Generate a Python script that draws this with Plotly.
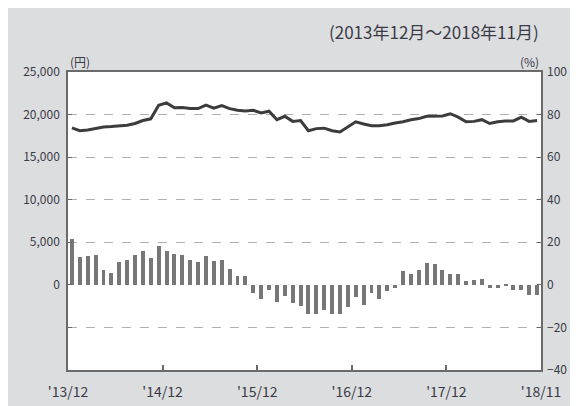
import plotly.graph_objects as go

# Monthly index: Dec 2013 .. Nov 2018 (60 months)
month_labels = ["'13/12", "'14/12", "'15/12", "'16/12", "'17/12", "'18/11"]

price_yen = [18440, 18100, 18200, 18400, 18550, 18600, 18650, 18750, 18950, 19300,
             19500, 21100, 21370, 20800, 20820, 20700, 20700, 21100, 20750, 21050,
             20700, 20500, 20430, 20500, 20200, 20400, 19400, 19800, 19200, 19300,
             18100, 18350, 18400, 18100, 17950, 18500, 19150, 18900, 18700, 18700,
             18800, 19000, 19150, 19400, 19530, 19800, 19840, 19840, 20100, 19700,
             19150, 19200, 19400, 18950, 19150, 19250, 19250, 19700, 19200, 19300]

yoy_pct = [21.4, 12.9, 13.5, 13.8, 7.0, 5.6, 10.8, 11.6, 14.0, 16.0,
           12.5, 18.1, 16.0, 14.6, 14.0, 11.6, 10.8, 13.6, 11.0, 11.6,
           7.3, 4.0, 4.3, -4.0, -6.7, -2.2, -7.9, -5.1, -8.7, -9.8,
           -13.5, -13.5, -11.7, -13.8, -13.5, -10.6, -5.7, -9.4, -3.7, -6.5,
           -2.9, -1.6, 6.5, 4.9, 6.8, 10.2, 9.8, 6.8, 4.9, 4.9,
           2.0, 2.4, 2.9, -1.3, -1.3, -0.4, -2.4, -2.4, -4.6, -4.6]

yen_ticks = [0, 5000, 10000, 15000, 20000, 25000]
yen_grid = [-5000, 5000, 10000, 15000, 20000]
pct_ticks = [-40, -20, 0, 20, 40, 60, 80, 100]

x = [i + 0.5 for i in range(len(price_yen))]
tick_pos = [0, 12, 24, 36, 48, 60]

FONT = "Noto Sans CJK JP"
TXT = "#3a3a46"
AX = "#6a6a6a"

# plot area in figure pixels (page body adds an 8px offset)
L, T, R, B = 60, 64, 533, 362
W, H = 578, 406
PH = B - T

fig = go.Figure()
fig.add_trace(go.Bar(x=x, y=yoy_pct, yaxis="y2", marker=dict(color="#777777", line_width=0),
                     width=0.5, showlegend=False))
fig.add_trace(go.Scatter(x=x, y=price_yen, yaxis="y", mode="lines",
                         line=dict(color="#3c3c3c", width=3), showlegend=False))

fig.update_layout(
    width=W, height=H,
    margin=dict(l=L, r=W - R, t=T, b=H - B),
    paper_bgcolor="#dcdddf",
    plot_bgcolor="white",
    font=dict(family=FONT, color=TXT, size=12),
    xaxis=dict(range=[0, 60], tickmode="array", tickvals=tick_pos, ticktext=month_labels,
               ticks="inside", ticklen=5, tickcolor=AX, tickwidth=1.5,
               showline=True, mirror=True, linecolor=AX, linewidth=1.5,
               showgrid=False, zeroline=False, tickfont=dict(size=14),
               ticklabelstandoff=8),
    yaxis=dict(range=[-10000, 25000], tickmode="array", tickvals=yen_ticks,
               ticktext=[f"{v:,}" for v in yen_ticks],
               ticks="inside", ticklen=4, tickcolor=AX,
               showline=True, mirror=True, linecolor=AX, linewidth=1.5,
               showgrid=False, zeroline=False, tickfont=dict(size=12),
               ticklabelstandoff=4,
               minor=dict(tickmode="array", tickvals=yen_grid, showgrid=True,
                          gridcolor="#b0b0b0", griddash="dash", gridwidth=1,
                          ticks="inside", ticklen=4, tickcolor=AX)),
    yaxis2=dict(range=[-40, 100], overlaying="y", side="right", tickmode="array",
                tickvals=pct_ticks, ticktext=[("−" + str(-v)) if v < 0 else str(v) for v in pct_ticks],
                ticks="inside", ticklen=4, tickcolor=AX, ticklabelstandoff=5,
                showgrid=False, zeroline=False, showline=False, tickfont=dict(size=12)),
    bargap=0,
    annotations=[
        dict(text="(2013年12月～2018年11月)", xref="paper", yref="paper", x=1.0, y=(B - 24) / PH,
             xanchor="right", yanchor="middle", showarrow=False, font=dict(size=17, color=TXT)),
        dict(text="(円)", xref="paper", yref="paper", x=0.0, y=(B - 53) / PH,
             xanchor="left", yanchor="middle", showarrow=False, font=dict(size=12, color=TXT)),
        dict(text="(%)", xref="paper", yref="paper", x=1.0, y=(B - 53) / PH,
             xanchor="right", yanchor="middle", showarrow=False, font=dict(size=12, color=TXT)),
    ],
)

fig.write_html("out.html")
